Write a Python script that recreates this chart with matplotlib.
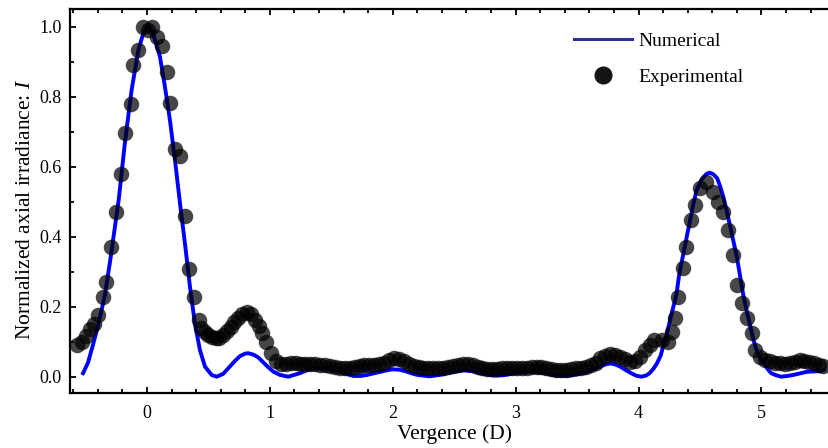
import numpy as np
import matplotlib
matplotlib.use("Agg")
import matplotlib.pyplot as plt
from matplotlib.ticker import MultipleLocator
from matplotlib.lines import Line2D

plt.rcParams['font.family'] = ['Liberation Serif', 'DejaVu Serif']
plt.rcParams['mathtext.fontset'] = 'custom'
plt.rcParams['mathtext.rm'] = 'Liberation Serif'
plt.rcParams['mathtext.it'] = 'Liberation Serif:italic'

# numerical axial irradiance
num_x = [-0.52, -0.48, -0.44, -0.40, -0.36, -0.34, -0.30, -0.27, -0.23, -0.18,
         -0.125, -0.07, -0.03, 0.0, 0.02, 0.05, 0.106, 0.146, 0.187, 0.228,
         0.269, 0.309, 0.35, 0.39, 0.431, 0.472, 0.526, 0.567, 0.62, 0.675,
         0.716, 0.757, 0.80, 0.825, 0.866, 0.906, 0.95, 0.987, 1.03, 1.082,
         1.15, 1.245, 1.30, 1.354, 1.41, 1.46, 1.52, 1.57, 1.63, 1.68,
         1.74, 1.79, 1.85, 1.90, 1.95, 2.00, 2.05, 2.10, 2.15, 2.20,
         2.30, 2.40, 2.50, 2.58, 2.66, 2.74, 2.82, 2.90, 3.00, 3.10,
         3.18, 3.26, 3.34, 3.42, 3.50, 3.58, 3.64, 3.69, 3.73, 3.77,
         3.81, 3.85, 3.90, 3.94, 3.98, 4.02, 4.06, 4.09, 4.12, 4.15,
         4.18, 4.20, 4.23, 4.25, 4.28, 4.31, 4.33, 4.36, 4.39, 4.42,
         4.445, 4.47, 4.50, 4.53, 4.555, 4.58, 4.61, 4.64, 4.665, 4.69,
         4.715, 4.74, 4.77, 4.80, 4.825, 4.85, 4.88, 4.91, 4.935, 4.96,
         4.99, 5.02, 5.05, 5.08, 5.12, 5.16, 5.21, 5.26, 5.32, 5.37,
         5.43, 5.48, 5.51]
num_y = [0.010, 0.040, 0.090, 0.143, 0.205, 0.238, 0.330, 0.405, 0.505, 0.667,
         0.819, 0.933, 0.981, 0.997, 1.000, 0.981, 0.914, 0.829, 0.733, 0.619,
         0.495, 0.381, 0.257, 0.152, 0.076, 0.029, 0.005, 0.000, 0.008, 0.029,
         0.045, 0.059, 0.066, 0.067, 0.063, 0.055, 0.040, 0.027, 0.014, 0.005,
         0.000, 0.010, 0.018, 0.024, 0.025, 0.024, 0.019, 0.014, 0.007, 0.002,
         0.002, 0.005, 0.010, 0.014, 0.018, 0.021, 0.020, 0.016, 0.010, 0.005,
         0.001, 0.006, 0.014, 0.018, 0.015, 0.008, 0.003, 0.004, 0.010, 0.015,
         0.013, 0.008, 0.003, 0.002, 0.006, 0.014, 0.022, 0.029, 0.035, 0.038,
         0.035, 0.029, 0.018, 0.010, 0.003, 0.000, 0.003, 0.010, 0.022, 0.038,
         0.060, 0.086, 0.120, 0.152, 0.195, 0.238, 0.290, 0.343, 0.397, 0.448,
         0.492, 0.529, 0.555, 0.571, 0.580, 0.583, 0.578, 0.567, 0.543, 0.514,
         0.478, 0.438, 0.390, 0.343, 0.290, 0.238, 0.188, 0.143, 0.106, 0.076,
         0.055, 0.038, 0.022, 0.010, 0.004, 0.000, 0.002, 0.005, 0.010, 0.014,
         0.015, 0.016, 0.020]

# measured axial irradiance
exp_x = [-0.57, -0.53, -0.50, -0.46, -0.43, -0.40, -0.36, -0.33, -0.29, -0.25,
         -0.21, -0.18, -0.13, -0.11, -0.07, -0.03, 0.01, 0.04, 0.08, 0.12,
         0.16, 0.19, 0.23, 0.27, 0.31, 0.34, 0.38, 0.42, 0.44, 0.47,
         0.50, 0.53, 0.56, 0.59, 0.62, 0.65, 0.68, 0.71, 0.74, 0.77,
         0.81, 0.85, 0.88, 0.91, 0.94, 0.97, 1.01, 1.05, 1.09, 1.13,
         1.17, 1.21, 1.25, 1.29, 1.33, 1.37, 1.41, 1.45, 1.49, 1.53,
         1.57, 1.61, 1.65, 1.69, 1.73, 1.77, 1.81, 1.85, 1.89, 1.93,
         1.97, 2.01, 2.05, 2.09, 2.13, 2.17, 2.21, 2.25, 2.29, 2.33,
         2.37, 2.41, 2.45, 2.49, 2.53, 2.57, 2.61, 2.65, 2.69, 2.73,
         2.77, 2.81, 2.85, 2.89, 2.93, 2.97, 3.01, 3.05, 3.09, 3.13,
         3.17, 3.21, 3.25, 3.29, 3.33, 3.37, 3.41, 3.45, 3.49, 3.53,
         3.57, 3.61, 3.65, 3.69, 3.73, 3.77, 3.81, 3.85, 3.89, 3.93,
         3.97, 4.01, 4.05, 4.09, 4.13, 4.19, 4.24, 4.27, 4.30, 4.32,
         4.36, 4.39, 4.43, 4.46, 4.50, 4.55, 4.61, 4.65, 4.69, 4.73,
         4.77, 4.80, 4.84, 4.88, 4.92, 4.95, 4.99, 5.03, 5.07, 5.11,
         5.15, 5.19, 5.23, 5.27, 5.31, 5.35, 5.39, 5.43, 5.47, 5.50]
exp_y = [0.090, 0.100, 0.115, 0.135, 0.150, 0.175, 0.228, 0.270, 0.371, 0.470,
         0.578, 0.696, 0.780, 0.890, 0.935, 1.000, 0.990, 1.000, 0.970, 0.945,
         0.871, 0.781, 0.652, 0.630, 0.460, 0.307, 0.229, 0.162, 0.140, 0.128,
         0.118, 0.114, 0.110, 0.110, 0.118, 0.130, 0.142, 0.155, 0.168, 0.178,
         0.186, 0.178, 0.163, 0.145, 0.125, 0.100, 0.068, 0.045, 0.036, 0.036,
         0.040, 0.038, 0.037, 0.036, 0.036, 0.035, 0.034, 0.032, 0.030, 0.028,
         0.026, 0.025, 0.026, 0.028, 0.030, 0.032, 0.033, 0.034, 0.036, 0.040,
         0.048, 0.052, 0.050, 0.044, 0.036, 0.031, 0.027, 0.025, 0.024, 0.024,
         0.025, 0.026, 0.028, 0.031, 0.034, 0.036, 0.036, 0.033, 0.028, 0.024,
         0.022, 0.021, 0.022, 0.024, 0.025, 0.025, 0.024, 0.024, 0.026, 0.028,
         0.029, 0.028, 0.025, 0.022, 0.020, 0.019, 0.020, 0.022, 0.024, 0.026,
         0.028, 0.032, 0.040, 0.052, 0.060, 0.064, 0.062, 0.057, 0.050, 0.042,
         0.045, 0.057, 0.075, 0.090, 0.104, 0.105, 0.100, 0.129, 0.167, 0.229,
         0.310, 0.371, 0.448, 0.490, 0.538, 0.557, 0.529, 0.500, 0.471, 0.419,
         0.348, 0.262, 0.210, 0.167, 0.124, 0.076, 0.057, 0.048, 0.044, 0.040,
         0.038, 0.037, 0.038, 0.042, 0.047, 0.046, 0.042, 0.038, 0.034, 0.030]

fig = plt.figure(figsize=(8.29, 4.48), dpi=100)
ax = fig.add_axes([0.0844, 0.1228, 0.9288, 0.857])

ax.plot(num_x, num_y, color='#0000ff', lw=2.8, zorder=2)
ax.scatter(exp_x, exp_y, s=125, color='black', alpha=0.72, linewidths=0, zorder=3)

ax.set_xlim(-0.6265, 5.639)
ax.set_ylim(-0.0466, 1.0506)
ax.xaxis.set_major_locator(MultipleLocator(1))
ax.xaxis.set_minor_locator(MultipleLocator(0.2))
ax.yaxis.set_major_locator(MultipleLocator(0.2))
ax.yaxis.set_minor_locator(MultipleLocator(0.1))
ax.set_xticks(range(0, 6))
ax.set_xticklabels([str(v) for v in range(0, 6)])
ax.set_yticks([0.0, 0.2, 0.4, 0.6, 0.8, 1.0])
ax.set_yticklabels(['0.0', '0.2', '0.4', '0.6', '0.8', '1.0'])

ax.tick_params(which='both', direction='in', top=True, right=True,
               width=1.3, labelsize=13, pad=6)
ax.tick_params(which='major', length=4.5)
ax.tick_params(which='minor', length=2.8)
ax.tick_params(axis='x', pad=9)
for sp in ax.spines.values():
    sp.set_linewidth(1.6)

ax.set_xlabel('Vergence (D)', fontsize=15.5, labelpad=1.5)
ax.set_ylabel('Normalized axial irradiance: $I$', fontsize=15.5)
ax.yaxis.set_label_coords(-0.046, 0.479)

handles = [Line2D([], [], color='#2b2f9a', lw=2.2),
           Line2D([], [], marker='o', ls='none', color='#151515', markersize=12)]
ax.legend(handles, ['Numerical', 'Experimental'], loc='upper left',
          bbox_to_anchor=(0.632, 0.985), frameon=False, fontsize=14,
          handlelength=3.0, handletextpad=0.3, labelspacing=0.95)

fig.savefig('out.png', dpi=100)
